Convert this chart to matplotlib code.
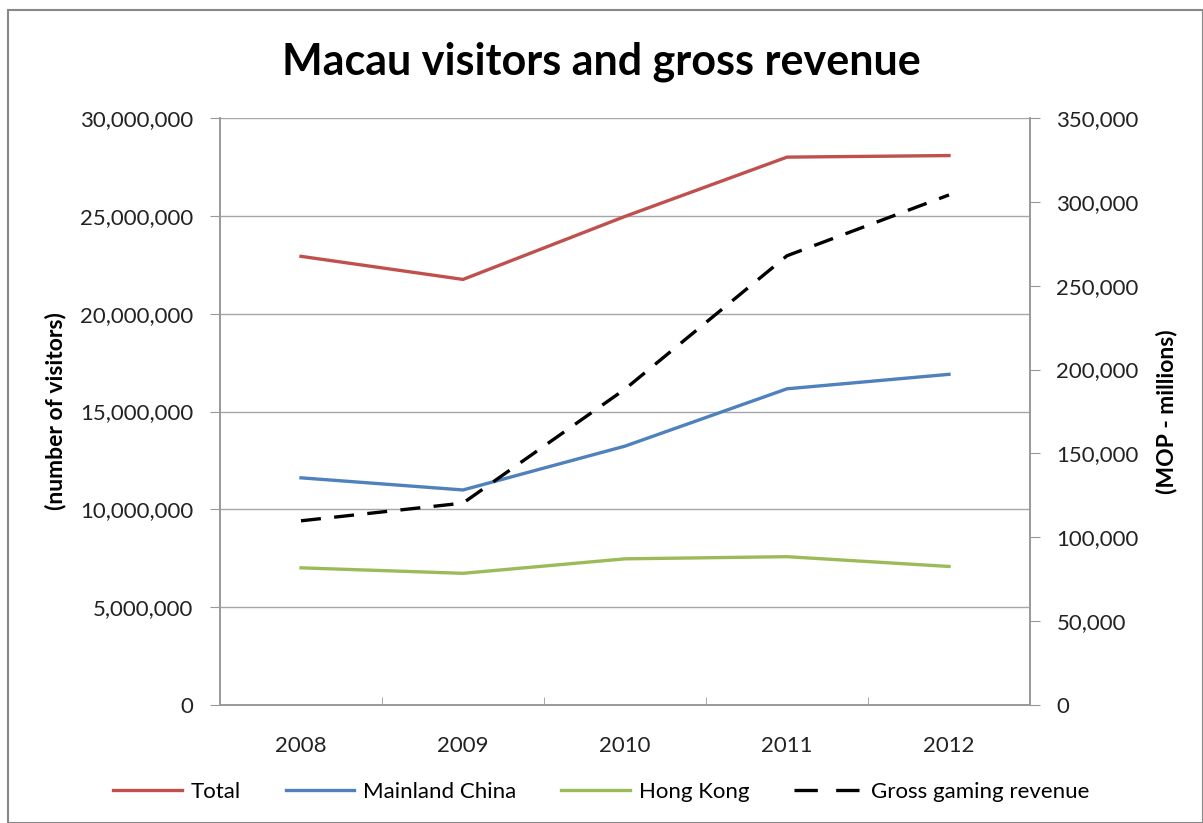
import matplotlib.pyplot as plt
from matplotlib.lines import Line2D
from matplotlib.ticker import FuncFormatter, FixedLocator

# Data
years = ['2008', '2009', '2010', '2011', '2012']
total = [22930000, 21750000, 24970000, 28000000, 28080000]
mainland = [11610000, 10990000, 13230000, 16160000, 16900000]
hong_kong = [7010000, 6730000, 7470000, 7580000, 7080000]
gaming_revenue = [109826, 120383, 188343, 267867, 304139]

plt.rcParams['font.family'] = ['Lato', 'DejaVu Sans']

fig = plt.figure(figsize=(12.03, 8.23), dpi=100)
ax = fig.add_axes([220 / 1203, 1 - 705 / 823, 810 / 1203, 587 / 823])
ax2 = ax.twinx()

x = list(range(len(years)))
l1, = ax.plot(x, total, color='#C0504D', lw=2.4, label='Total')
l2, = ax.plot(x, mainland, color='#4F81BD', lw=2.4, label='Mainland China')
l3, = ax.plot(x, hong_kong, color='#9BBB59', lw=2.4, label='Hong Kong')
ax2.plot(x, gaming_revenue, color='black', lw=2.4, dashes=(6, 4))
# legend proxy so the key shows two whole dashes
l4 = Line2D([], [], color='black', lw=2.4, dashes=(7, 5.5), label='Gross gaming revenue')

ax.set_xlim(-0.5, 4.5)
ax.set_ylim(0, 30000000)
ax2.set_ylim(0, 350000)
ax.set_yticks(range(0, 30000001, 5000000))
ax2.set_yticks(range(0, 350001, 50000))
fmt = FuncFormatter(lambda v, p: f'{int(v):,}')
ax.yaxis.set_major_formatter(fmt)
ax2.yaxis.set_major_formatter(fmt)

ax.set_xticks(x)
ax.set_xticklabels(years)
ax.xaxis.set_minor_locator(FixedLocator([0.5, 1.5, 2.5, 3.5]))
ax.tick_params(axis='x', which='major', length=0, pad=22, labelsize=16, colors='#222222')
ax.tick_params(axis='x', which='minor', length=6, direction='in', color='#999999')
for a in (ax, ax2):
    a.tick_params(axis='y', length=7, direction='out', color='#999999',
                  labelcolor='#222222', labelsize=16, pad=12)

ax.grid(axis='y', color='#A6A6A6', lw=1)
ax.set_axisbelow(True)
for a in (ax, ax2):
    a.spines['top'].set_visible(False)
    for s in ('left', 'right', 'bottom'):
        a.spines[s].set_color('#999999')
        a.spines[s].set_linewidth(1.2)

ax.set_ylabel('(number of visitors)', fontsize=16.5, fontweight='bold', labelpad=10)
ax2.set_ylabel('(MOP - millions)', fontsize=16.5, fontweight='bold', rotation=90, labelpad=12)

fig.text(0.5, 1 - 62 / 823, 'Macau visitors and gross revenue', ha='center', va='center',
         fontsize=31, fontweight='bold')

fig.legend(handles=[l1, l2, l3, l4], loc='center', bbox_to_anchor=(0.5, 1 - 792 / 823),
           ncol=4, frameon=False, fontsize=16, handlelength=3.1, handletextpad=0.4,
           columnspacing=2.0)

# outer chart border
fig.patches.append(plt.Rectangle((8 / 1203, 0), 1 - 8 / 1203, 1 - 10 / 823,
                                 transform=fig.transFigure, fill=False,
                                 edgecolor='#888888', lw=1.5))

plt.savefig('out.png', dpi=100)
